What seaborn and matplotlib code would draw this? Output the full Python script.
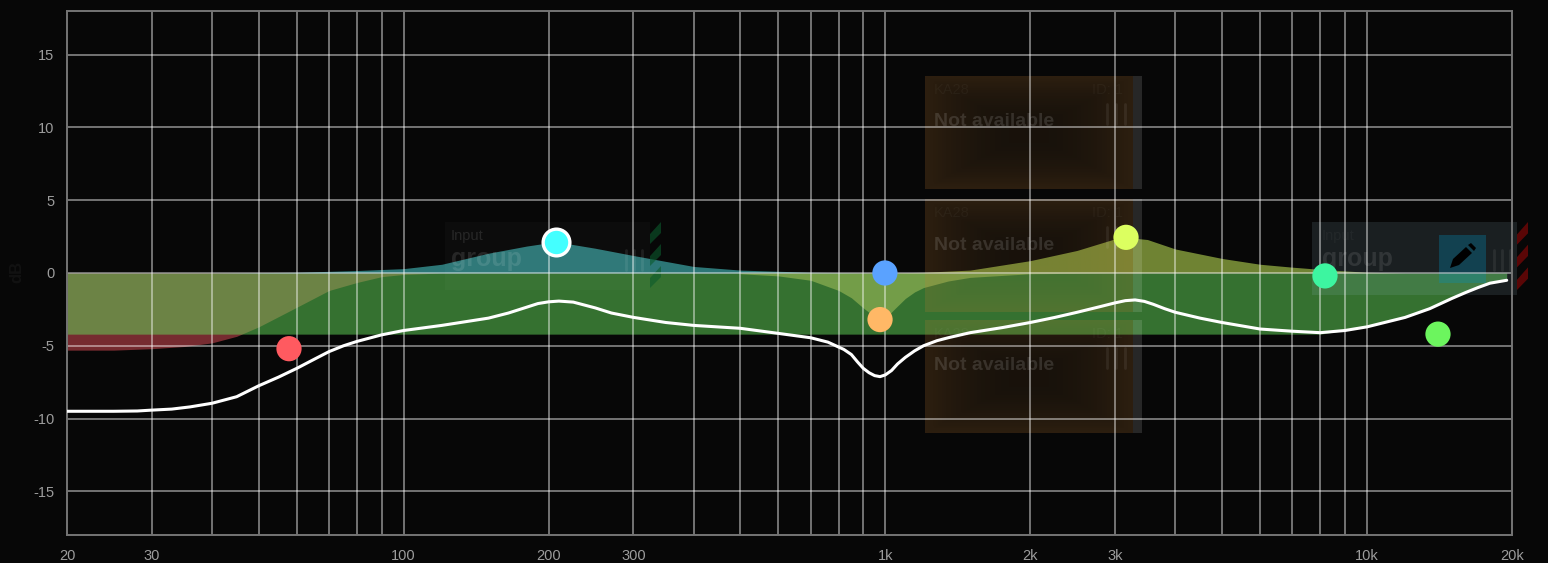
import numpy as np
import pandas as pd
import matplotlib
matplotlib.use("Agg")
import matplotlib.pyplot as plt
import matplotlib.ticker as mticker
import matplotlib.transforms as mtransforms
from matplotlib.patches import Rectangle, Polygon
import seaborn as sns

# total response curve (Hz, dB)
curve_freq = [20, 25, 28, 30, 33, 36, 40, 45, 50, 55, 60, 65, 70, 75, 80, 90, 100, 120, 150, 165, 180, 190, 200, 210,
              225, 250, 270, 300, 350, 400, 500, 600, 700, 760, 820, 850, 875, 900, 925, 950, 975, 1000, 1030,
              1060, 1100, 1150, 1200, 1280, 1350, 1500, 1750, 2000, 2250, 2500, 2800, 3000, 3150, 3300, 3450,
              3600, 3800, 4000, 4500, 5000, 6000, 7000, 8000, 9000, 10000, 12000, 13500, 15000, 16000, 17000,
              18000, 19500]
curve_db = [-9.5, -9.5, -9.48, -9.42, -9.35, -9.2, -8.95, -8.5, -7.75, -7.15, -6.55, -5.95, -5.4, -5.0, -4.7, -4.25,
            -3.95, -3.6, -3.1, -2.75, -2.35, -2.1, -1.98, -1.93, -2.0, -2.4, -2.75, -3.05, -3.4, -3.6, -3.8, -4.15,
            -4.45, -4.75, -5.25, -5.6, -6.1, -6.55, -6.85, -7.05, -7.12, -7.0, -6.7, -6.25, -5.8, -5.35, -5.0,
            -4.65, -4.45, -4.1, -3.75, -3.4, -3.05, -2.7, -2.3, -2.05, -1.9, -1.85, -1.95, -2.15, -2.45, -2.7,
            -3.1, -3.4, -3.85, -4.0, -4.1, -3.95, -3.7, -3.05, -2.45, -1.75, -1.35, -1.0, -0.7, -0.5]

# band shapes
red_freq = [20, 25, 30, 35, 40, 45, 50, 60, 70, 80, 90, 100, 120]
red_db = [-5.3, -5.3, -5.2, -5.05, -4.8, -4.35, -3.7, -2.35, -1.2, -0.65, -0.25, -0.1, 0.0]
teal_freq = [40, 60, 80, 100, 120, 150, 180, 207, 250, 300, 400, 500, 700, 1000]
teal_db = [0.0, 0.05, 0.17, 0.3, 0.6, 1.36, 1.85, 2.15, 1.7, 1.2, 0.45, 0.2, 0.05, 0.0]
orange_freq = [500, 600, 700, 800, 850, 900, 950, 975, 1000, 1050, 1100, 1150, 1200, 1350, 1500, 2000, 3000]
orange_db = [-0.05, -0.2, -0.5, -1.2, -1.7, -2.4, -3.0, -3.2, -3.1, -2.4, -1.75, -1.3, -1.0, -0.55, -0.3, -0.05, 0.0]
yellow_freq = [1000, 1200, 1500, 2000, 2500, 3000, 3160, 3500, 4000, 5000, 6000, 7000, 8000, 10000, 12000]
yellow_db = [0.0, 0.05, 0.2, 0.85, 1.55, 2.35, 2.45, 2.3, 1.65, 1.0, 0.6, 0.4, 0.25, 0.05, 0.0]
green_freq = [20, 8000, 9000, 10000, 12000, 13500, 15000, 16000, 17000, 18000, 19500]
green_db = [-4.2, -4.2, -3.95, -3.7, -3.05, -2.45, -1.75, -1.35, -1.0, -0.7, -0.5]

# EQ nodes
node_freq = [57.8, 207, 998, 975, 3160, 8180, 14040]
node_db = [-5.2, 2.15, 0.0, -3.2, 2.45, -0.2, -4.2]
node_names = ["hp", "bell1", "bell2", "notch", "bell3", "bell4", "shelf"]
node_colors = ["#ff5a60", "#44ffff", "#5aa2ff", "#ffb866", "#dcff60", "#3df5a0", "#6cf55e"]

x_ticks = [20, 30, 100, 200, 300, 1000, 2000, 3000, 10000, 20000]
x_labels = ["20", "30", "100", "200", "300", "1k", "2k", "3k", "10k", "20k"]
grid_freqs = [30, 40, 50, 60, 70, 80, 90, 100, 200, 300, 400, 500, 600, 700, 800, 900,
              1000, 2000, 3000, 4000, 5000, 6000, 7000, 8000, 9000, 10000]
y_ticks = [-15, -10, -5, 0, 5, 10, 15]
y_labels = ["-15", "-10", "-5", "0", "5", "10", "15"]

BG = "#070707"
W, H = 1548, 563

sns.set_theme(style="dark")
plt.rcParams["font.family"] = ["Liberation Sans", "DejaVu Sans"]

fig = plt.figure(figsize=(W / 100, H / 100), dpi=100, facecolor=BG)
ax = fig.add_axes([67 / W, 1 - 535 / H, (1512 - 67) / W, (535 - 11) / H], facecolor=BG)
ax.set_xscale("log")

# pixel coords, y down, for the ghost panels behind the chart
px = mtransforms.Affine2D().scale(1, -1).translate(0, H)


def panel_rect(x0, y0, x1, y1, color, alpha, z=2.5):
    ax.add_patch(Rectangle((x0, y0), x1 - x0, y1 - y0, transform=px, facecolor=color, alpha=alpha,
                           edgecolor="none", clip_on=False, zorder=z))


def ghost_text(x, y, s, size, weight="normal", alpha=0.14):
    ax.text(x, y, s, transform=px, color="white", alpha=alpha, fontsize=size, fontweight=weight,
            va="center", ha="left", clip_on=False, zorder=2.6)


def stripes(x0, x1, y0, y1, color, alpha=1.0):
    step = (y1 - y0) / 3
    for i in range(3):
        top = y0 + i * step
        ax.add_patch(Polygon([(x0, top + step * 0.55), (x1, top), (x1, top + step * 0.5), (x0, top + step)],
                             transform=px, facecolor=color, alpha=alpha, edgecolor="none",
                             clip_on=False, zorder=2.5))


def brown_panel(y0, y1):
    # brown edges fading into a darker middle
    nx, ny = 120, 60
    xx, yy = np.meshgrid(np.linspace(-1, 1, nx), np.linspace(-1, 1, ny))
    edge = np.clip(np.maximum(np.abs(xx), np.abs(yy)) ** 2, 0, 1)
    img = np.zeros((ny, nx, 4))
    img[..., 0] = 0.78
    img[..., 1] = 0.50
    img[..., 2] = 0.20
    img[..., 3] = 0.09 + 0.11 * edge
    x0, x1 = 925, 1133
    im = ax.imshow(img, origin="upper", aspect="auto", zorder=2.5, interpolation="bilinear")
    im.set_transform(mtransforms.Affine2D().scale(1, -1).translate(0, H))
    im.set_extent((x0, x1, y1, y0))
    im.set_clip_on(False)
    panel_rect(x1, y0, 1142, y1, "#ffffff", 0.13)
    ghost_text(934, y0 + 14, "KA28", 10.5, alpha=0.035)
    ghost_text(1092, y0 + 14, "ID: 1", 10.5, alpha=0.035)
    ghost_text(934, y0 + 46, "Not available", 14, weight="bold", alpha=0.13)
    for bx in (1107, 1116, 1125):
        ax.plot([bx, bx], [y0 + 28, y0 + 48], transform=px, color="white", alpha=0.07, lw=2,
                clip_on=False, zorder=2.6)


def fill_band(freq, db, color):
    ax.fill_between(freq, db, 0, color=color, alpha=0.5, linewidth=0, zorder=2)


# filter bands, green goes last so it tints the others
fill_band(red_freq, red_db, "#e65059")
fill_band(teal_freq, teal_db, "#52e6e6")
fill_band(orange_freq, orange_db, "#ffb866")
fill_band(yellow_freq, yellow_db, "#d8ff60")
fill_band(green_freq, green_db, "#64dc5a")

# ghost ui panels
for top, bottom in [(76, 189), (199, 312), (320, 433)]:
    brown_panel(top, bottom)

panel_rect(445, 222, 650, 290, "#ffffff", 0.025)
ghost_text(451, 236, "Input", 10.5, alpha=0.11)
ghost_text(451, 259, "group", 18, weight="bold", alpha=0.11)
for bx in (626, 634, 642):
    ax.plot([bx, bx], [250, 270], transform=px, color="white", alpha=0.08, lw=2, clip_on=False, zorder=2.6)
stripes(650, 661, 222, 288, "#0c5a2c", 0.6)

panel_rect(1312, 222, 1517, 295, "#9fc6d6", 0.13)
panel_rect(1439, 235, 1486, 283, "#0090c0", 0.3)
ghost_text(1322, 259, "group", 18, weight="bold", alpha=0.1)
ghost_text(1322, 236, "Input", 10.5, alpha=0.04)
for bx in (1494, 1502, 1510):
    ax.plot([bx, bx], [250, 270], transform=px, color="white", alpha=0.07, lw=2, clip_on=False, zorder=2.6)
stripes(1517, 1528, 222, 290, "#5a0606")
# pencil icon
ax.add_patch(Polygon([(1453, 259), (1466, 247), (1472, 253), (1459, 265), (1450, 268)], transform=px,
                     facecolor="black", edgecolor="none", clip_on=False, zorder=2.7))
ax.add_patch(Polygon([(1468, 245), (1471, 243), (1476, 248), (1474, 251)], transform=px,
                     facecolor="black", edgecolor="none", clip_on=False, zorder=2.7))

# grid
for f in grid_freqs:
    ax.axvline(f, color="white", alpha=0.44, lw=1.4, zorder=3)
for d in y_ticks:
    ax.axhline(d, color="white", alpha=0.44, lw=1.4, zorder=3)

curve = pd.DataFrame({"freq": curve_freq, "db": curve_db})
sns.lineplot(data=curve, x="freq", y="db", color="white", lw=2.2, estimator=None, sort=False, ax=ax, zorder=5,
             solid_joinstyle="round")

nodes = pd.DataFrame({"freq": node_freq, "db": node_db, "name": node_names})
sns.scatterplot(data=nodes, x="freq", y="db", hue="name", palette=node_colors, s=330, linewidth=0,
                legend=False, ax=ax, zorder=6, clip_on=False)
sns.scatterplot(data=nodes[nodes["name"] == "bell1"], x="freq", y="db", color="#44ffff", s=370,
                edgecolor="white", linewidth=2.4, legend=False, ax=ax, zorder=7)

ax.set_xlim(20, 20000)
ax.set_ylim(-18, 18)
ax.set_xticks(x_ticks)
ax.set_xticklabels(x_labels)
ax.xaxis.set_minor_locator(mticker.NullLocator())
ax.set_yticks(y_ticks)
ax.set_yticklabels(y_labels)
ax.tick_params(axis="both", colors="#9c9c9c", labelsize=10.5, length=0)
ax.tick_params(axis="x", pad=10)
ax.tick_params(axis="y", pad=9)
ax.grid(False)
ax.set_xlabel("")
ax.set_ylabel("")
ax.text(17, 272, "dB", transform=px, color="#121212", fontsize=12, fontweight="bold", rotation=90,
        ha="center", va="center", clip_on=False)

for side in ax.spines.values():
    side.set_color("#747474")
    side.set_linewidth(1.4)
    side.set_zorder(3)

fig.savefig("out.png", dpi=100, facecolor=BG)
